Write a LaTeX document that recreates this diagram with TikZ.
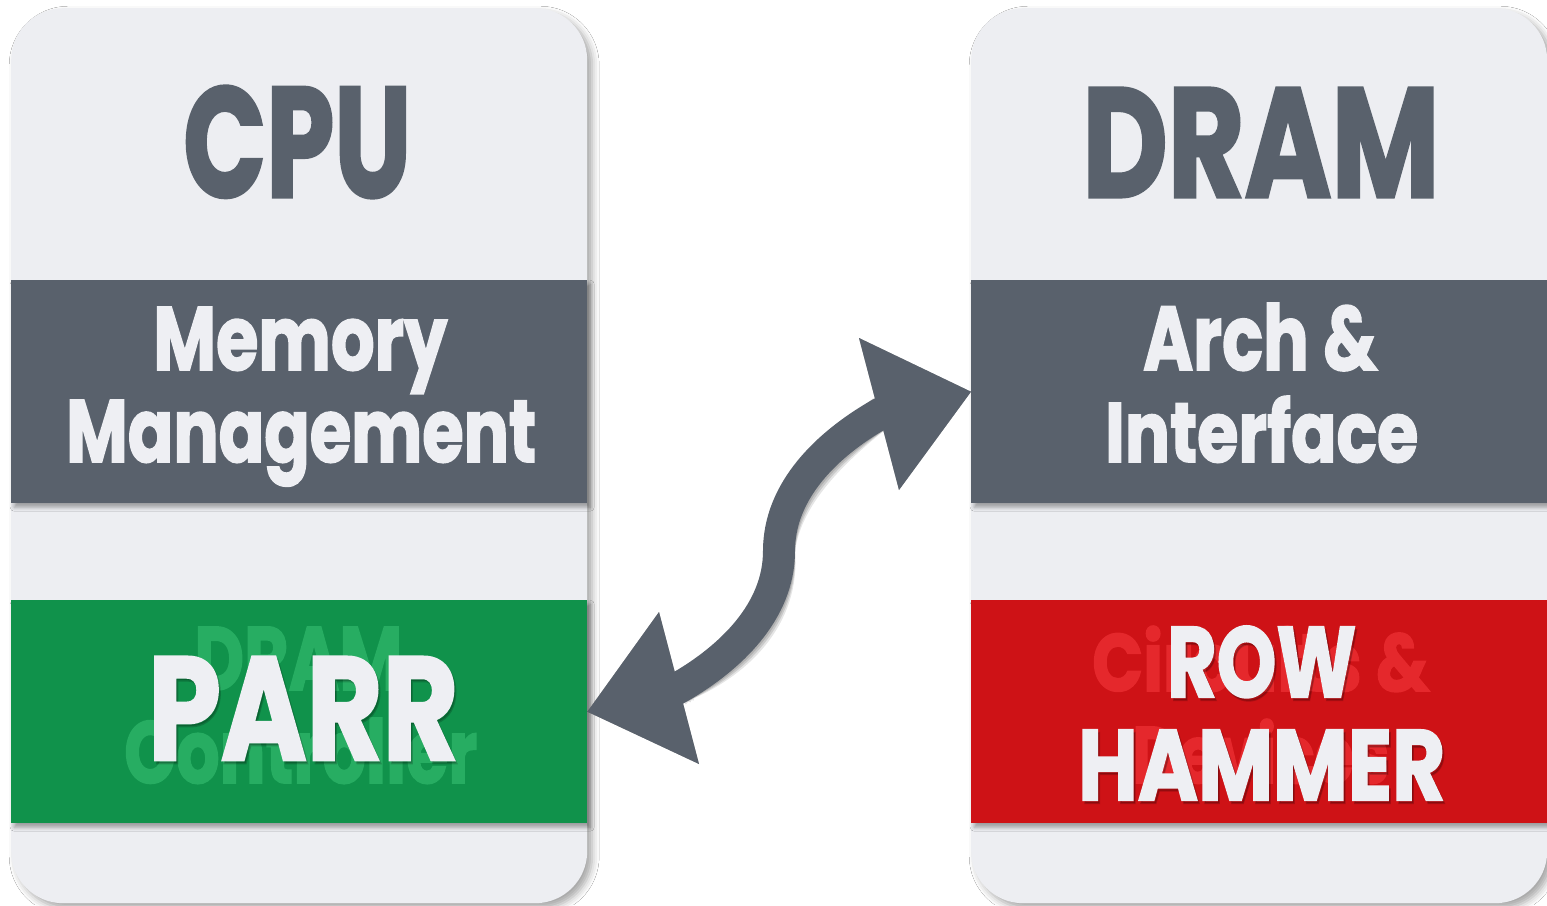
\documentclass[tikz,border=0pt]{standalone}
\usepackage{fontspec}
\setmainfont{Poppins}[BoldFeatures={FakeBold=2}]
\usepackage{graphicx}
\usetikzlibrary{shadows.blur}

\definecolor{panelbg}{HTML}{EDEEF2}
\definecolor{slate}{HTML}{59616C}
\definecolor{leaf}{HTML}{10924B}
\definecolor{leafghost}{HTML}{27AD62}
\definecolor{brick}{HTML}{CE1216}
\definecolor{brickghost}{HTML}{E5282C}
\definecolor{paper}{HTML}{EEEFF3}

% a bold word stretched to a given width and cap height (in pt)
\newcommand\fitword[3]{\resizebox{#1pt}{#2pt}{\bfseries #3}}

\tikzset{
  panel/.style={fill=panelbg, rounded corners=52pt, inner sep=0pt,
    minimum width=576pt, minimum height=895pt, anchor=north west,
    blur shadow={shadow xshift=5pt, shadow yshift=-5pt,
                 shadow blur radius=7pt, shadow opacity=35}},
  band/.style={inner sep=0pt, minimum width=576pt, minimum height=223pt,
    anchor=north west,
    blur shadow={shadow xshift=3pt, shadow yshift=-4pt,
                 shadow blur radius=4pt, shadow opacity=35}},
  word/.style={inner sep=0pt, anchor=base west},
  title/.style={word, text=slate},
  label/.style={word, text=paper},
}

\begin{document}
\begin{tikzpicture}[x=1pt,y=-1pt]
\useasboundingbox (0,0) rectangle (1547,905);
\fill[white] (0,0) rectangle (1547,905);

% the two columns
\node[panel] (cpu)  at (11,8)  {};
\node[panel] (dram) at (971,8) {};

% coloured bands
\node[band, fill=slate] (mm)   at (11,280)  {};
\node[band, fill=leaf]  (parr) at (11,600)  {};
\node[band, fill=slate] (arch) at (971,280) {};
\node[band, fill=brick] (rh)   at (971,600) {};

% column titles
\node[title] (tcpu)  at (183,197)  {\fitword{228}{111}{CPU}};
\node[title] (tdram) at (1082,197) {\fitword{357}{109}{DRAM}};

% band labels
\node[label] (tmem)  at (153,370)  {\fitword{294}{63}{Memory}};
\node[label] (tman)  at (66,462)   {\fitword{470}{62}{Management}};
\node[label] (tarch) at (1143,370) {\fitword{234}{67}{Arch \&}};
\node[label] (tint)  at (1105,462) {\fitword{313}{66}{Interface}};

% faded words behind the highlighted labels
\node[word, text=leafghost]  (gdram) at (194,690)  {\fitword{208}{63}{DRAM}};
\node[word, text=leafghost]  (gctl)  at (124,783)  {\fitword{353}{65}{Controller}};
\node[word, text=brickghost] (gcir)  at (1092,691) {\fitword{337}{65}{Circuits \&}};
\node[word, text=brickghost] (gdev)  at (1132,783) {\fitword{257}{64}{Devices}};

% highlighted labels with a soft shadow
\begin{scope}[opacity=0.18, shift={(2,3)}]
  \node[word, text=black] at (148,760)  {\fitword{310}{103}{PARR}};
  \node[word, text=black] at (1167,697) {\fitword{189}{71}{ROW}};
  \node[word, text=black] at (1078,800) {\fitword{367}{70}{HAMMER}};
\end{scope}
\node[label] (tparr) at (148,760)  {\fitword{310}{103}{PARR}};
\node[label] (trow)  at (1167,697) {\fitword{189}{71}{ROW}};
\node[label] (tham)  at (1078,800) {\fitword{367}{70}{HAMMER}};

% curved double arrow between the columns
\coordinate (tipL) at (parr.east);
\coordinate (tipR) at (arch.west);
\coordinate (hL1) at (659,612);
\coordinate (hL2) at (699,764);
\coordinate (hR1) at (859,338);
\coordinate (hR2) at (899,490);
\coordinate (sL) at (680,687);
\coordinate (sR) at (878,415);
\coordinate (mid) at (779,551);
\tikzset{shaft/.style={line width=32pt},
  shaftpath/.style={insert path={(672,691.5) -- (sL)
      .. controls (730,658) and (779,612) .. (mid)
      .. controls (779,490) and (828,444) .. (sR) -- (886,410.5)}}}

\foreach \d/\o in {6/0.10, 4/0.12, 2/0.12}{
  \begin{scope}[transparency group, opacity=\o, shift={(\d,\d)}]
    \draw[shaft, black, shaftpath];
    \fill[black] (tipL) -- (hL1) -- (hL2) -- cycle;
    \fill[black] (tipR) -- (hR1) -- (hR2) -- cycle;
  \end{scope}
}
\draw[shaft, slate, shaftpath];
\fill[slate] (tipL) -- (hL1) -- (hL2) -- cycle;
\fill[slate] (tipR) -- (hR1) -- (hR2) -- cycle;
\end{tikzpicture}
\end{document}
